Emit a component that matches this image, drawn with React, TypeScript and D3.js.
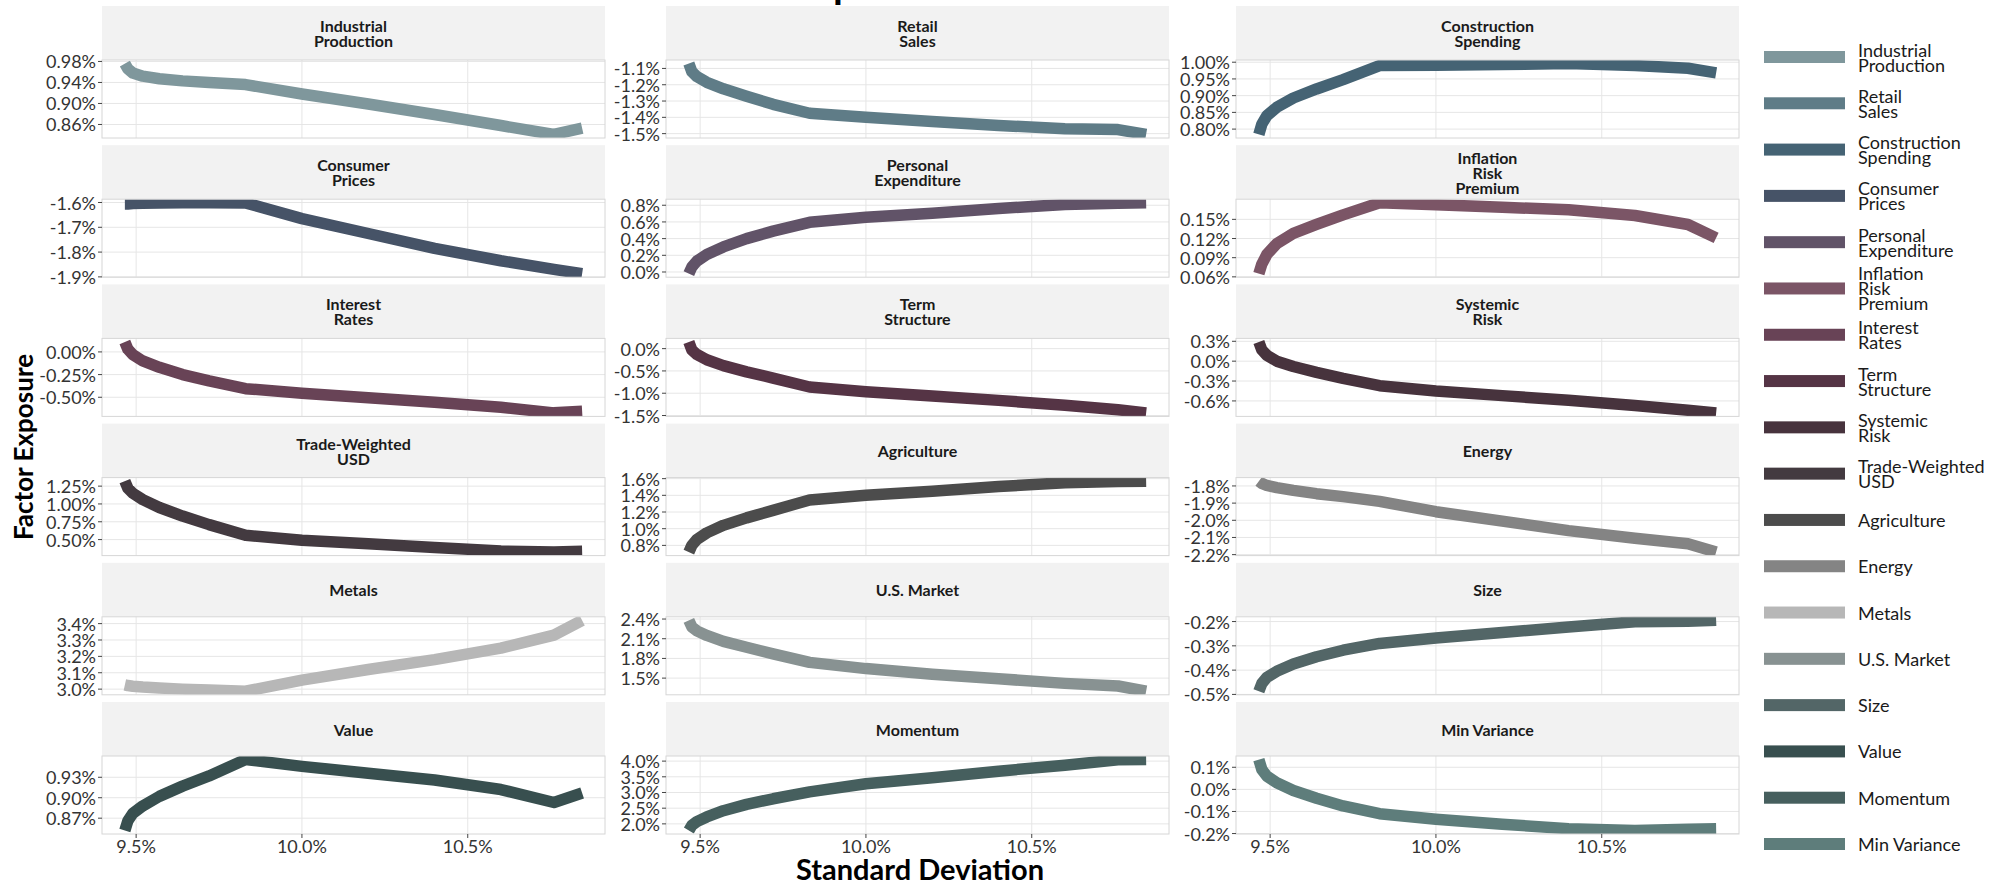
import React from "react";
import * as d3 from "d3";

// Portfolio standard deviation (%) along the frontier
const stdDev = [9.466, 9.475, 9.49, 9.52, 9.57, 9.64, 9.72, 9.83, 10.0, 10.2, 10.4, 10.6, 10.76, 10.845];

// Factor exposures (%) at each point of stdDev
const industrialProduction = [0.976, 0.966, 0.958, 0.952, 0.947, 0.943, 0.94, 0.936, 0.918, 0.899, 0.879, 0.858, 0.841, 0.853];
const retailSales = [-1.07, -1.12, -1.15, -1.185, -1.225, -1.27, -1.32, -1.375, -1.4, -1.425, -1.45, -1.47, -1.475, -1.505];
const constructionSpending = [0.784, 0.815, 0.84, 0.865, 0.893, 0.92, 0.948, 0.99, 0.991, 0.993, 0.996, 0.99, 0.982, 0.968];
const consumerPrices = [-1.606, -1.606, -1.604, -1.603, -1.602, -1.601, -1.601, -1.602, -1.665, -1.725, -1.785, -1.835, -1.87, -1.887];
const personalExpenditure = [-0.02, 0.06, 0.13, 0.21, 0.3, 0.4, 0.49, 0.595, 0.655, 0.705, 0.76, 0.81, 0.825, 0.83];
const inflationRiskPremium = [0.065, 0.08, 0.095, 0.112, 0.128, 0.142, 0.157, 0.176, 0.173, 0.169, 0.165, 0.156, 0.142, 0.121];
const interestRates = [0.11, 0.03, -0.03, -0.1, -0.17, -0.25, -0.32, -0.405, -0.455, -0.505, -0.555, -0.61, -0.672, -0.655];
const termStructure = [0.15, -0.03, -0.13, -0.25, -0.38, -0.52, -0.66, -0.86, -0.965, -1.06, -1.16, -1.27, -1.37, -1.44];
const systemicRisk = [0.29, 0.17, 0.09, 0.0, -0.08, -0.17, -0.26, -0.37, -0.45, -0.52, -0.59, -0.67, -0.74, -0.78];
const tradeWeightedUsd = [1.32, 1.22, 1.15, 1.06, 0.95, 0.83, 0.71, 0.56, 0.49, 0.44, 0.39, 0.34, 0.325, 0.335];
const agriculture = [0.72, 0.8, 0.87, 0.95, 1.04, 1.13, 1.22, 1.345, 1.4, 1.45, 1.505, 1.55, 1.565, 1.57];
const energy = [-1.772, -1.785, -1.797, -1.81, -1.826, -1.845, -1.862, -1.89, -1.95, -2.005, -2.06, -2.105, -2.137, -2.185];
const metals = [3.026, 3.022, 3.018, 3.013, 3.007, 3.0, 2.994, 2.987, 3.055, 3.12, 3.18, 3.25, 3.33, 3.42];
const usMarket = [2.38, 2.28, 2.22, 2.15, 2.06, 1.97, 1.87, 1.74, 1.645, 1.56, 1.49, 1.42, 1.38, 1.3];
const size = [-0.487, -0.455, -0.43, -0.405, -0.375, -0.345, -0.318, -0.29, -0.268, -0.245, -0.222, -0.201, -0.199, -0.195];
const value = [0.852, 0.866, 0.877, 0.888, 0.902, 0.917, 0.932, 0.956, 0.946, 0.936, 0.926, 0.912, 0.893, 0.907];
const momentum = [1.79, 1.95, 2.07, 2.22, 2.42, 2.62, 2.8, 3.02, 3.28, 3.47, 3.68, 3.87, 4.04, 4.05];
const minVariance = [0.135, 0.09, 0.06, 0.03, -0.005, -0.04, -0.075, -0.11, -0.135, -0.158, -0.178, -0.186, -0.18, -0.178];

const factorNames = [
  "Industrial\nProduction", "Retail\nSales", "Construction\nSpending",
  "Consumer\nPrices", "Personal\nExpenditure", "Inflation\nRisk\nPremium",
  "Interest\nRates", "Term\nStructure", "Systemic\nRisk",
  "Trade-Weighted\nUSD", "Agriculture", "Energy",
  "Metals", "U.S. Market", "Size",
  "Value", "Momentum", "Min Variance",
];

const factorValues = [
  industrialProduction, retailSales, constructionSpending,
  consumerPrices, personalExpenditure, inflationRiskPremium,
  interestRates, termStructure, systemicRisk,
  tradeWeightedUsd, agriculture, energy,
  metals, usMarket, size,
  value, momentum, minVariance,
];

const factorColors = [
  "#7f979c", "#5f7c87", "#456374",
  "#465367", "#615368", "#7b5566",
  "#684356", "#553445", "#47333d",
  "#433a40", "#4c4c4c", "#848484",
  "#b7b7b7", "#889292", "#536667",
  "#384f4f", "#465f5e", "#5e7d7b",
];

const factorTicks = [
  [0.86, 0.9, 0.94, 0.98], [-1.5, -1.4, -1.3, -1.2, -1.1], [0.8, 0.85, 0.9, 0.95, 1.0],
  [-1.9, -1.8, -1.7, -1.6], [0.0, 0.2, 0.4, 0.6, 0.8], [0.06, 0.09, 0.12, 0.15],
  [-0.5, -0.25, 0.0], [-1.5, -1.0, -0.5, 0.0], [-0.6, -0.3, 0.0, 0.3],
  [0.5, 0.75, 1.0, 1.25], [0.8, 1.0, 1.2, 1.4, 1.6], [-2.2, -2.1, -2.0, -1.9, -1.8],
  [3.0, 3.1, 3.2, 3.3, 3.4], [1.5, 1.8, 2.1, 2.4], [-0.5, -0.4, -0.3, -0.2],
  [0.87, 0.9, 0.93], [2.0, 2.5, 3.0, 3.5, 4.0], [-0.2, -0.1, 0.0, 0.1],
];

const tickDecimals = [2, 1, 2, 1, 1, 2, 2, 1, 1, 2, 1, 1, 1, 1, 1, 2, 1, 1];

const xTicks = [9.5, 10.0, 10.5];

const W = 1999;
const H = 883;
const FONT = "Lato, 'Open Sans', sans-serif";
const colLeft = [102, 666, 1236];
const panelW = 503;
const stripH = 54;
const panelH = 78;
const rowPitch = 139.2;
const firstRowTop = 6;

const locale = d3.formatLocale({ decimal: ".", thousands: ",", grouping: [3], currency: ["", ""], minus: "-" });
const pct = (dp: number) => {
  const f = locale.format(`.${dp}f`);
  return (v: number) => f(v) + "%";
};

function expand(ext: [number, number], m = 0.05): [number, number] {
  const w = ext[1] - ext[0];
  return [ext[0] - w * m, ext[1] + w * m];
}

export default function App() {
  const x = d3
    .scaleLinear()
    .domain(expand(d3.extent(stdDev) as [number, number]))
    .range([0, panelW]);

  const legendY = d3.scalePoint<string>().domain(factorNames).range([57, 844]);

  const nRows = Math.ceil(factorNames.length / 3);

  return (
    <div style={{ position: "absolute", left: 0, top: 0, width: W, height: H, background: "#fff" }}>
      <svg width={W} height={H} style={{ display: "block", fontFamily: FONT, overflow: "hidden" }}>
        <rect width={W} height={H} fill="#fff" />
        <defs>
          {factorNames.map((_, i) => (
            <clipPath id={`panel-clip-${i}`} key={i}>
              <rect x={0} y={0} width={panelW} height={panelH} />
            </clipPath>
          ))}
        </defs>

        {/* Plot title (sits almost entirely above the canvas) */}
        <text
          x={917}
          y={-1}
          textAnchor="middle"
          fontSize={36}
          fontWeight={700}
          fill="#000"
          textLength={497}
          lengthAdjust="spacingAndGlyphs"
        >
          Factor Exposure Across Risk
        </text>

        {factorNames.map((name, i) => {
          const col = i % 3;
          const row = Math.floor(i / 3);
          const left = colLeft[col];
          const stripTop = firstRowTop + row * rowPitch;
          const panelTop = stripTop + stripH;
          const vals = factorValues[i];
          const y = d3
            .scaleLinear()
            .domain(expand(d3.extent(vals) as [number, number]))
            .range([panelH, 0]);
          const [d0, d1] = y.domain();
          const ticks = factorTicks[i].filter((t) => t >= d0 - 1e-9 && t <= d1 + 1e-9);
          const fmt = pct(tickDecimals[i]);
          const pts = stdDev.map((s, k) => [s, vals[k]] as [number, number]);
          const line = d3
            .line<[number, number]>()
            .x((d) => x(d[0]))
            .y((d) => y(d[1]));
          const lines = name.split("\n");
          const lh = 15;
          const isBottom = row === nRows - 1;
          return (
            <g key={name}>
              {/* strip */}
              <rect x={left} y={stripTop} width={panelW} height={stripH} fill="#f2f2f2" />
              <text
                x={left + panelW / 2}
                textAnchor="middle"
                fontSize={16}
                fontWeight={700}
                fill="#1a1a1a"
              >
                {lines.map((ln, k) => (
                  <tspan
                    key={k}
                    x={left + panelW / 2}
                    y={stripTop + stripH / 2 + (k - (lines.length - 1) / 2) * lh}
                    dominantBaseline="central"
                  >
                    {ln}
                  </tspan>
                ))}
              </text>

              <g transform={`translate(${left},${panelTop})`}>
                <rect width={panelW} height={panelH} fill="#fff" />
                {/* grid */}
                {ticks.map((t) => (
                  <line key={`gy${t}`} x1={0} x2={panelW} y1={y(t)} y2={y(t)} stroke="#e6e6e6" strokeWidth={1} />
                ))}
                {xTicks.map((t) => (
                  <line key={`gx${t}`} x1={x(t)} x2={x(t)} y1={0} y2={panelH} stroke="#e6e6e6" strokeWidth={1} />
                ))}
                {/* series */}
                <g clipPath={`url(#panel-clip-${i})`}>
                  <path
                    d={line(pts) || ""}
                    fill="none"
                    stroke={factorColors[i]}
                    strokeWidth={11.5}
                    strokeLinejoin="round"
                    strokeLinecap="butt"
                  />
                </g>
                <rect width={panelW} height={panelH} fill="none" stroke="#d6d6d6" strokeWidth={1} />

                {/* y axis */}
                {ticks.map((t) => (
                  <g key={`ty${t}`}>
                    <line x1={-4} x2={0} y1={y(t)} y2={y(t)} stroke="#444" strokeWidth={1} />
                    <text
                      x={-6}
                      y={y(t)}
                      textAnchor="end"
                      dominantBaseline="central"
                      fontSize={18}
                      fill="#333"
                    >
                      {fmt(t)}
                    </text>
                  </g>
                ))}

                {/* x axis on bottom row */}
                {isBottom &&
                  xTicks.map((t) => (
                    <g key={`tx${t}`}>
                      <line x1={x(t)} x2={x(t)} y1={panelH} y2={panelH + 4} stroke="#444" strokeWidth={1} />
                      <text x={x(t)} y={panelH + 19} textAnchor="middle" fontSize={18} fill="#333">
                        {pct(1)(t)}
                      </text>
                    </g>
                  ))}
              </g>
            </g>
          );
        })}

        {/* axis titles */}
        <text x={920} y={880} textAnchor="middle" fontSize={29} fontWeight={700} fill="#000">
          Standard Deviation
        </text>
        <text
          transform="translate(23,447) rotate(-90)"
          textAnchor="middle"
          dominantBaseline="central"
          fontSize={26}
          fontWeight={700}
          fill="#000"
        >
          Factor Exposure
        </text>

        {/* legend */}
        {factorNames.map((name, i) => {
          const cy = legendY(name) as number;
          const lines = name.split("\n");
          const lh = 15;
          return (
            <g key={`lg${i}`}>
              <rect x={1764} y={cy - 6} width={81} height={12} fill={factorColors[i]} />
              <text fontSize={18} fill="#1a1a1a">
                {lines.map((ln, k) => (
                  <tspan
                    key={k}
                    x={1858}
                    y={cy + (k - (lines.length - 1) / 2) * lh}
                    dominantBaseline="central"
                  >
                    {ln}
                  </tspan>
                ))}
              </text>
            </g>
          );
        })}
      </svg>
    </div>
  );
}
